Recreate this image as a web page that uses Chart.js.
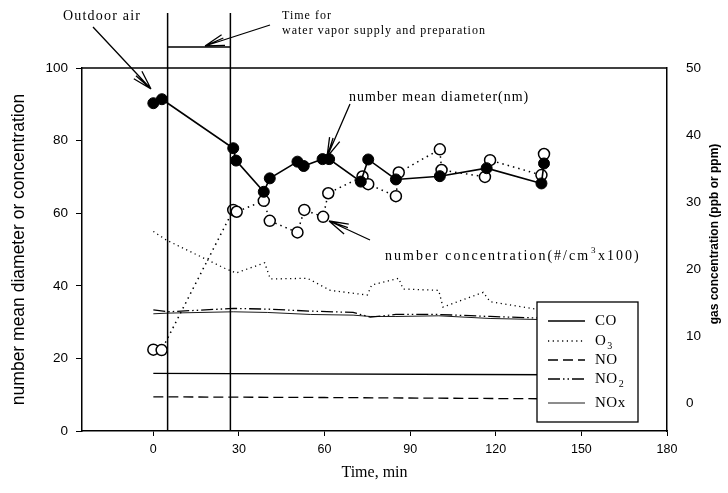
<!DOCTYPE html>
<html>
<head>
<meta charset="utf-8">
<script src="https://cdn.jsdelivr.net/npm/chart.js@4.4.0/dist/chart.umd.min.js"></script>
<style>
  html,body{margin:0;padding:0;background:#fff}
</style>
</head>
<body>
<canvas id="c" width="728" height="493"></canvas>
<script>
const X_TICKS=[0,30,60,90,120,150,180]
const Y_TICKS=[0,20,40,60,80,100]
const GAS_TICKS=[0,10,20,30,40,50]
const EVENT_T=[5,27]

// number mean diameter (nm), filled circles
const DIAM_T=[0,3,28,29,38.7,40.8,50.5,52.7,59.3,61.6,72.7,75.3,85,100.4,116.8,136,136.9]
const DIAM=[90.3,91.4,77.9,74.5,65.9,69.6,74.2,73.0,74.9,74.9,68.7,74.8,69.3,70.2,72.4,68.2,73.7]
// number concentration (#/cm3 x100), open circles
const CONC_T=[0,2.9,28,29.2,38.7,40.8,50.5,52.9,59.5,61.3,73.3,75.3,85,86,100.4,101,116.2,118,136,136.9]
const CONC=[22.4,22.3,60.9,60.4,63.4,57.9,54.7,60.9,59.0,65.5,70.1,68.0,64.7,71.2,77.6,71.9,70.0,74.6,70.5,76.3]

// gas concentrations (right axis)
const O3_T=[0,4.6,25,29,39,41,54,62,75,76.5,86,87.5,100,101.5,115.6,118,134,140]
const O3=[25.6,24.3,20.1,19.4,20.9,18.5,18.6,16.8,16.1,17.6,18.6,17.0,16.8,14.3,16.5,15.1,14.0,13.8]
const CO_T=[0,140]
const CO=[4.4,4.2]
const NO_T=[0,60,140]
const NO=[0.9,0.8,0.6]
const NOX_T=[0,5,28,40,55,70,76,85,100,118,140]
const NO2=[13.9,13.6,14.1,14.0,13.7,13.5,12.8,13.2,13.2,12.9,12.6]
const NOX=[13.3,13.4,13.6,13.5,13.2,13.1,12.9,12.9,13.0,12.6,12.4]

const serif='"Liberation Serif","Times New Roman",serif'
const sans='"Liberation Sans",Arial,sans-serif'
const pts=(t,v)=>t.map((x,i)=>({x,y:v[i]}))

const gasLine=(label,t,v,o)=>({label,data:pts(t,v),yAxisID:'g',borderColor:'#000',borderWidth:1.3,pointRadius:0,fill:false,tension:0,...o})

function arrow(ctx,x1,y1,x2,y2){
  const a=Math.atan2(y2-y1,x2-x1), L=20
  ctx.beginPath()
  ctx.moveTo(x1,y1);ctx.lineTo(x2,y2)
  for(const d of [-0.28,-0.1,0.28]){
    ctx.moveTo(x2,y2);ctx.lineTo(x2-L*Math.cos(a+d),y2-L*Math.sin(a+d))
  }
  ctx.stroke()
}

function text(ctx,s,x,y,size,spacing){
  ctx.font=size+'px '+serif
  ctx.letterSpacing=spacing+'px'
  ctx.fillText(s,x,y)
  const w=ctx.measureText(s).width
  ctx.letterSpacing='0px'
  return w
}

const decor={
  id:'decor',
  afterDatasetsDraw(chart){
    const {ctx,chartArea:ca,scales}=chart
    ctx.save()
    ctx.strokeStyle='#000';ctx.fillStyle='#000';ctx.lineWidth=1.3
    // top frame line
    ctx.beginPath();ctx.moveTo(ca.left,ca.top);ctx.lineTo(ca.right,ca.top);ctx.stroke()
    // event lines
    const ex=EVENT_T.map(v=>scales.x.getPixelForValue(v))
    ctx.lineWidth=1.5
    ctx.beginPath()
    ex.forEach(x=>{ctx.moveTo(x,13);ctx.lineTo(x,ca.bottom)})
    ctx.moveTo(ex[0],47);ctx.lineTo(ex[1],47)
    ctx.stroke()

    // legend box
    const bx=537,by=302,bw=101,bh=120
    ctx.fillStyle='#fff';ctx.fillRect(bx,by,bw,bh)
    ctx.lineWidth=1.3;ctx.strokeRect(bx,by,bw,bh)
    const rows=[['CO',''],['O','3'],['NO',''],['NO','2'],['NOx','']]
    const rowY=[321,341,360,379,403]
    const order=['CO','O3','NO','NO2','NOx']
    ctx.textBaseline='middle';ctx.fillStyle='#000'
    rows.forEach((r,i)=>{
      const d=chart.data.datasets.find(s=>s.label===order[i])
      ctx.save()
      ctx.lineWidth=d.borderWidth;ctx.setLineDash(d.borderDash||[])
      ctx.beginPath();ctx.moveTo(548,rowY[i]);ctx.lineTo(585,rowY[i]);ctx.stroke()
      ctx.restore()
      const w=text(ctx,r[0],595,rowY[i],15,0.5)
      if(r[1]) text(ctx,r[1],596+w,rowY[i]+5,10,0)
    })

    // annotations
    ctx.lineWidth=1.3
    ctx.textBaseline='alphabetic'
    text(ctx,'Outdoor air',63,20,14,1.2)
    arrow(ctx,93,27,151,89)
    text(ctx,'Time for',282,19,12,1)
    text(ctx,'water vapor supply and preparation',282,34,12,1)
    arrow(ctx,270,25,205,46)
    text(ctx,'number mean diameter(nm)',349,101,14,1)
    arrow(ctx,350,104,327,157)
    let w=text(ctx,'number concentration(#/cm',385,260,14,2)
    text(ctx,'3',386+w,253,9,0)
    text(ctx,'x100)',393+w,260,14,2)
    arrow(ctx,370,240,329,221)

    // right axis title
    ctx.save()
    ctx.translate(715,234);ctx.rotate(-Math.PI/2)
    ctx.font='bold 12px '+sans;ctx.textAlign='center';ctx.textBaseline='middle'
    ctx.fillText('gas concentration (ppb or ppm)',0,0)
    ctx.restore()
    ctx.restore()
  }
}

new Chart(document.getElementById('c'),{
  type:'line',
  data:{datasets:[
    {label:'diam',data:pts(DIAM_T,DIAM),yAxisID:'y',borderColor:'#000',borderWidth:1.6,
     pointRadius:5.5,pointBackgroundColor:'#000',pointBorderColor:'#000',pointBorderWidth:1,tension:0},
    {label:'conc',data:pts(CONC_T,CONC),yAxisID:'y',borderColor:'#000',borderWidth:1.5,borderDash:[1.5,4],
     pointRadius:5.5,pointBackgroundColor:'#fff',pointBorderColor:'#000',pointBorderWidth:1.5,tension:0},
    gasLine('CO',CO_T,CO,{borderWidth:1.4}),
    gasLine('O3',O3_T,O3,{borderDash:[1.2,3.5],borderWidth:1.3}),
    gasLine('NO',NO_T,NO,{borderDash:[10,5]}),
    gasLine('NO2',NOX_T,NO2,{borderDash:[12,3,1.5,3,1.5,3]}),
    gasLine('NOx',NOX_T,NOX,{borderWidth:0.9}),
  ]},
  options:{
    responsive:false,animation:false,
    layout:{padding:{top:68,left:0,right:0,bottom:0}},
    plugins:{legend:{display:false},tooltip:{enabled:false}},
    scales:{
      x:{type:'linear',min:-25,max:180,
        afterBuildTicks:s=>{s.ticks=X_TICKS.map(v=>({value:v}))},
        afterFit:s=>{s.height=62},
        ticks:{color:'#000',font:{family:sans,size:12.5},padding:6,maxRotation:0},
        grid:{drawOnChartArea:false,tickLength:5,color:'#000'},
        border:{color:'#000',width:1.5},
        title:{display:true,text:'Time, min',color:'#000',font:{family:serif,size:16},padding:{top:0,bottom:11}}
      },
      y:{position:'left',min:0,max:100,
        afterBuildTicks:s=>{s.ticks=Y_TICKS.map(v=>({value:v}))},
        afterFit:s=>{s.width=82},
        ticks:{color:'#000',font:{family:sans,size:13.5},padding:8},
        grid:{drawOnChartArea:false,tickLength:6,color:'#000'},
        border:{color:'#000',width:1.5},
        title:{display:true,text:'number mean diameter or concentration',color:'#000',font:{family:sans,size:17.5},padding:{top:9,bottom:0}}
      },
      g:{position:'right',min:-4.2,max:50,
        afterBuildTicks:s=>{s.ticks=GAS_TICKS.map(v=>({value:v}))},
        afterFit:s=>{s.width=61},
        ticks:{color:'#000',font:{family:sans,size:13.5},padding:19},
        grid:{drawOnChartArea:false,drawTicks:false,tickLength:0,color:'#000'},
        border:{color:'#000',width:1.5}
      }
    }
  },
  plugins:[decor]
})
</script>
</body>
</html>
